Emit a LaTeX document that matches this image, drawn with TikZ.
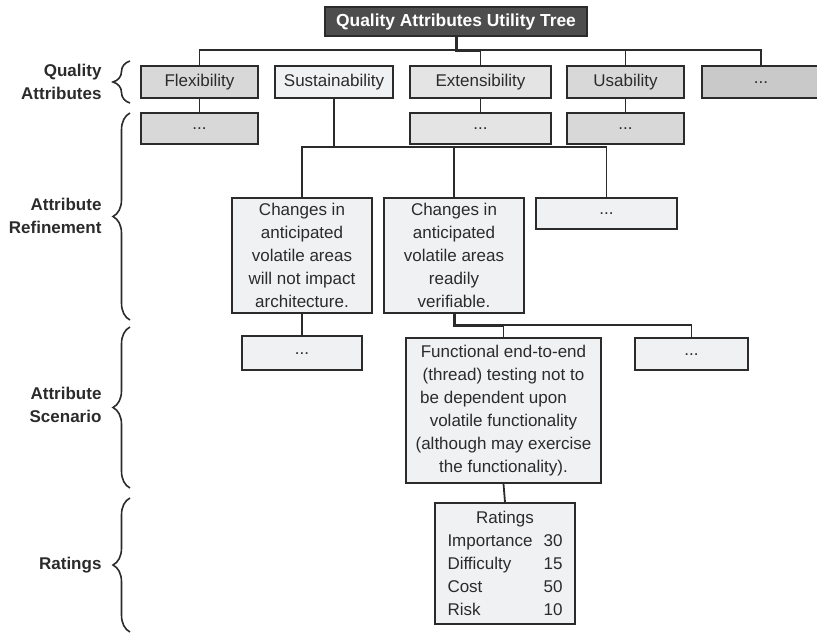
\documentclass[tikz,border=0pt]{standalone}
\usepackage{fontspec}
\setmainfont{Liberation Sans}
\usepackage{xcolor}
\usepackage{tikz}
\usetikzlibrary{decorations.pathreplacing, calc}
\definecolor{treeline}{HTML}{2B2B2B}
\definecolor{titlegray}{HTML}{4D4D4D}
\definecolor{boxpale}{HTML}{F0F1F2}
\definecolor{boxlight}{HTML}{E4E4E4}
\definecolor{boxmid}{HTML}{D8D8D8}
\definecolor{boxdark}{HTML}{C9C9C9}
\newcommand{\ratingrow}[2]{\makebox[96pt][l]{#1}\makebox[19pt][r]{#2}}

\tikzset{
  tbox/.style={draw=treeline, line width=1.8pt, inner sep=0pt, align=center, text=treeline, font=\fontsize{17}{23}\selectfont},
  attrbox/.style={tbox, minimum height=32pt},
  dotsbox/.style={tbox, minimum height=31pt, text height=2pt, text depth=0pt},
  link/.style={treeline, line width=1.8pt},
  trunk/.style={treeline, line width=3pt},
  levelbrace/.style={treeline, line width=1.6pt, decorate, decoration={brace, amplitude=17pt}},
  levelname/.style={anchor=east, align=right, text=treeline, font=\fontsize{17}{23}\selectfont\bfseries}
}

\begin{document}
\begin{tikzpicture}[x=1pt, y=-1pt]
  \useasboundingbox (0,0) rectangle (817,633);

  \node[tbox, fill=titlegray, text=white, font=\fontsize{17.4}{23}\selectfont\bfseries, minimum width=262pt, minimum height=29pt] (title) at (456,21.5) {Quality Attributes Utility Tree};

  \node[attrbox, fill=boxmid, minimum width=117pt] (flex) at (199.5,82) {Flexibility};
  \node[attrbox, fill=boxpale, minimum width=118pt] (sust) at (334,82) {Sustainability};
  \node[attrbox, fill=boxlight, minimum width=141pt] (ext) at (480.5,82) {Extensibility};
  \node[attrbox, fill=boxmid, minimum width=117pt] (usab) at (625.5,82) {Usability};
  \node[dotsbox, fill=boxdark, minimum width=118pt, minimum height=32pt] (more) at (761,82) {...};

  \node[dotsbox, fill=boxmid, minimum width=117pt] (flexdots) at (199.5,128.5) {...};
  \node[dotsbox, fill=boxlight, minimum width=141pt] (extdots) at (480.5,128.5) {...};
  \node[dotsbox, fill=boxmid, minimum width=117pt] (usabdots) at (625.5,128.5) {...};

  \node[tbox, fill=boxpale, minimum width=140pt, minimum height=115pt] (keep) at (302,255.5) {Changes in\\anticipated\\volatile areas\\will not impact\\architecture.};
  \node[tbox, fill=boxpale, minimum width=140pt, minimum height=115pt] (verify) at (454,255.5) {Changes in\\anticipated\\volatile areas\\readily\\verifiable.};
  \node[dotsbox, fill=boxpale, minimum width=141pt] (refmore) at (606.5,213.5) {...};

  \node[dotsbox, fill=boxpale, minimum width=120pt, minimum height=34pt] (keepdots) at (302,353) {...};
  \node[tbox, fill=boxpale, minimum width=195pt, minimum height=145pt] (thread) at (503.5,410.5) {Functional end-to-end\\(thread) testing not to\\be dependent upon\rule{20pt}{0pt}\\volatile functionality\\(although may exercise\\the functionality).};
  \node[dotsbox, fill=boxpale, minimum width=113pt, minimum height=32pt] (scenmore) at (691.5,354) {...};

  \node[tbox, fill=boxpale, minimum width=140pt, minimum height=121pt] (rate) at (505,563.5) {Ratings\\\ratingrow{Importance}{30}\\\ratingrow{Difficulty}{15}\\\ratingrow{Cost}{50}\\\ratingrow{Risk}{10}};

  \coordinate (bus) at (456,50);
  \draw[trunk] (title.south) -- (bus) -- (bus -| ext.north);
  \foreach \n in {flex,ext,usab,more}
    \draw[link] (\n.north) |- (bus);
  \foreach \a/\b in {flex/flexdots, ext/extdots, usab/usabdots}
    \draw[link] (\a.south) -- (\b.north);

  \coordinate (sbus) at (334,147);
  \draw[link] (sust.south) -- (sbus);
  \foreach \n in {keep,verify,refmore}
    \draw[link] (\n.north) |- (sbus);

  \draw[link] (keep.south) -- (keepdots.north);
  \coordinate (vbus) at (454,325);
  \draw[trunk] (verify.south) -- (vbus) -- (vbus -| thread.north);
  \foreach \n in {thread,scenmore}
    \draw[link] (\n.north) |- (vbus);
  \draw[link] (thread.south) -- (rate.north);

  \node[levelname] (qa) at (105,82) {Quality\\Attributes};
  \node[levelname] (refine) at (105,216) {Attribute\\Refinement};
  \node[levelname] (scen) at (105,405) {Attribute\\Scenario};
  \node[levelname] (ratings) at (105,565) {Ratings};
  \draw[levelbrace] (130,103) -- (130,61);
  \draw[levelbrace] (130,320) -- (130,113);
  \draw[levelbrace] (130,488) -- (130,327);
  \draw[levelbrace] (130,632) -- (130,498);
\end{tikzpicture}
\end{document}
